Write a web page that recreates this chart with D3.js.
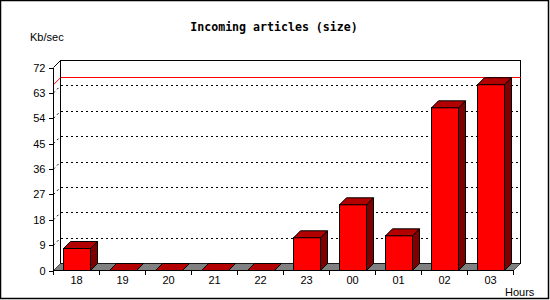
<!DOCTYPE html>
<html><head><meta charset="utf-8">
<script src="https://cdn.jsdelivr.net/npm/d3@7"></script>
<style>body{margin:0;background:#fff}svg{display:block}</style>
</head><body>
<svg id="c" width="550" height="300"></svg>
<script>
const categories = ["18","19","20","21","22","23","00","01","02","03"];
const values = [7.8, 0, 0, 0, 0, 11.6, 23.3, 12.3, 57.7, 65.9];
const yTicks = [0, 9, 18, 27, 36, 45, 54, 63, 72];
const title = "Incoming articles (size)";
const yTitle = "Kb/sec";
const xTitle = "Hours";

const svg = d3.select("#c");
const D = 7; // depth offset
const x = d3.scaleBand().domain(categories).range([53.5, 513.5]);
const y = d3.scaleLinear().domain([0, 72]).range([270.5, 67.5]);
const barW = 27;

// frame
svg.append("rect").attr("x",0.5).attr("y",0.5).attr("width",548).attr("height",298)
  .attr("fill","#fff").attr("stroke","#000").attr("stroke-width",1.5);

const g = svg.append("g");
const x0 = x.range()[0], x1 = x.range()[1];
const yb = y(0), yt = y(72);

// back wall
g.append("rect").attr("x", x0 + D).attr("y", yt - D).attr("width", x1 - x0).attr("height", yb - yt)
  .attr("fill", "#fff").attr("stroke", "#000").attr("shape-rendering","crispEdges");

// grid lines (dotted) on back wall + side wall
yTicks.filter(v => v > 0 && v < 72).forEach(v => {
  g.append("line").attr("x1", x0 + D).attr("x2", x1 + D).attr("y1", y(v) - D).attr("y2", y(v) - D)
    .attr("stroke", "#000").attr("stroke-dasharray", "2,3").attr("shape-rendering","crispEdges");
  g.append("line").attr("x1", x0).attr("x2", x0 + D).attr("y1", y(v)).attr("y2", y(v) - D)
    .attr("stroke", "#000").attr("stroke-dasharray", "2,3");
});

// max line (red)
const vmax = d3.max(values);
g.append("line").attr("x1", x0 + D).attr("x2", x1 + D).attr("y1", y(vmax) - D).attr("y2", y(vmax) - D)
  .attr("stroke", "#ff0000").attr("shape-rendering","crispEdges");
g.append("line").attr("x1", x0).attr("x2", x0 + D).attr("y1", y(vmax)).attr("y2", y(vmax) - D)
  .attr("stroke", "#ff0000");

// floor
g.append("path").attr("d", `M${x0},${yb}L${x1},${yb}L${x1 + D},${yb - D}L${x0 + D},${yb - D}Z`)
  .attr("fill", "#808080").attr("stroke", "#000").attr("stroke-width", 0.6);

// left axis line + top diag
g.append("line").attr("x1", x0).attr("x2", x0).attr("y1", yt).attr("y2", yb)
  .attr("stroke", "#000").attr("shape-rendering","crispEdges");
g.append("line").attr("x1", x0).attr("x2", x0 + D).attr("y1", yt).attr("y2", yt - D).attr("stroke", "#000");

// bars
const bars = g.selectAll("g.bar").data(categories.map((c, i) => ({c, v: values[i]}))).join("g");
bars.each(function(d) {
  const sel = d3.select(this);
  const bx = Math.round(x(d.c) + (x.bandwidth() - barW) / 2) + 0.5;
  const top = y(d.v);
  const bot = yb;
  if (d.v > 0) {
    sel.append("rect").attr("x", bx).attr("y", top).attr("width", barW).attr("height", bot - top)
      .attr("fill", "#ff0000").attr("stroke", "#000").attr("shape-rendering","crispEdges");
    sel.append("path").attr("d", `M${bx + barW},${top}L${bx + barW + D},${top - D}L${bx + barW + D},${bot - D}L${bx + barW},${bot}Z`)
      .attr("fill", "#7f0000").attr("stroke", "#000").attr("stroke-linejoin","round");
  }
  sel.append("path").attr("d", `M${bx},${top}L${bx + D},${top - D}L${bx + barW + D},${top - D}L${bx + barW},${top}Z`)
    .attr("fill", "#b30000").attr("stroke", "#000").attr("stroke-linejoin","round");
});

// x axis line
g.append("line").attr("x1", x0).attr("x2", x1).attr("y1", yb).attr("y2", yb)
  .attr("stroke", "#000").attr("shape-rendering","crispEdges");
// boundary ticks
categories.concat(["end"]).forEach((c, i) => {
  const tx = i < categories.length ? x(c) : x1;
  g.append("line").attr("x1", tx).attr("x2", tx).attr("y1", yb).attr("y2", yb + 4)
    .attr("stroke", "#000").attr("shape-rendering","crispEdges");
});

// y axis ticks/labels
const ya = svg.append("g").attr("transform", `translate(${x0},0)`)
  .call(d3.axisLeft(y).tickValues(yTicks).tickSize(5).tickPadding(3));
ya.select(".domain").remove();
ya.selectAll("line").attr("shape-rendering","crispEdges");
ya.selectAll("text").attr("font-family","Liberation Sans, Arial, sans-serif").attr("font-size", 11).attr("fill","#000");

// x labels
const xa = svg.append("g").attr("transform", `translate(0,${yb})`)
  .call(d3.axisBottom(x).tickSize(0).tickPadding(6));
xa.select(".domain").remove();
xa.selectAll("text").attr("font-family","Liberation Sans, Arial, sans-serif").attr("font-size", 11).attr("fill","#000");

// titles
svg.append("text").attr("x", 274).attr("y", 31).attr("text-anchor","middle")
  .attr("font-family","DejaVu Sans Mono, monospace").attr("font-weight","bold").attr("font-size", 11.6)
  .text(title);
svg.append("text").attr("x", 30).attr("y", 41)
  .attr("font-family","Liberation Sans, Arial, sans-serif").attr("font-size", 11).text(yTitle);
svg.append("text").attr("x", 505).attr("y", 296)
  .attr("font-family","Liberation Sans, Arial, sans-serif").attr("font-size", 11).text(xTitle);
</script>
</body></html>
